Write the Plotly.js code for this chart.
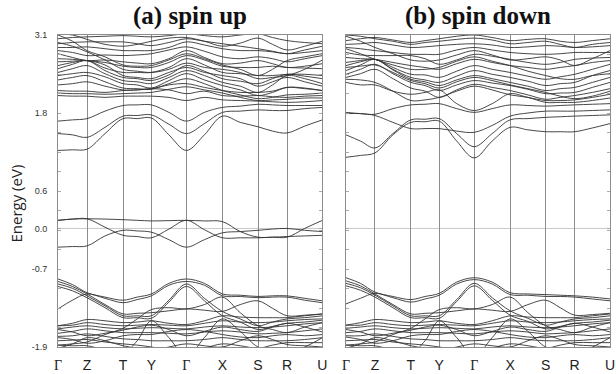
<!DOCTYPE html>
<html>
<head>
<meta charset="utf-8">
<script src="https://cdn.plot.ly/plotly-3.0.1.min.js"></script>
<style>html,body{margin:0;padding:0;background:#fff;}#chart{width:616px;height:374px;}</style>
</head>
<body>
<div id="chart"></div>
<script>
// k-path coordinates (high-symmetry points and segment midpoints)
const kPath = [0, 14.5, 29, 47, 65, 79.2, 93.4, 110.9, 128.4, 146.4, 164.4, 182.2, 200, 214.5, 229, 246.7, 264.4];
const kTicks = [0, 29, 65, 93.4, 128.4, 164.4, 200, 229, 264.4];
const kLabels = ['<span style="font-family:Liberation Serif">Γ</span>', "Z", "T", "Y", '<span style="font-family:Liberation Serif">Γ</span>', "X", "S", "R", "U"];
const yTickVals = [-1.9, -0.65, 0.0, 0.6, 1.85, 3.1];
const yTickText = ["-1.9", "-0.7", "0.0", "0.6", "1.8", "3.1"];

// ---------- spin up (eV) ----------
const upGap = [
  [0.13, 0.15, 0.155, 0.15, 0.14, 0.13, 0.12, 0.125, 0.13, 0.12, 0.11, -0.05, -0.14, -0.14, -0.14, 0.0, 0.13],
  [0.13, 0.15, 0.155, 0.02, -0.11, -0.13, -0.15, -0.01, 0.13, -0.02, -0.15, -0.15, -0.15, -0.14, -0.13, -0.12, -0.11],
  [-0.30, -0.29, -0.28, -0.12, -0.03, -0.04, -0.06, -0.18, -0.30, -0.18, -0.07, -0.05, -0.03, -0.01, 0.0, -0.03, -0.05]
];
const upCondLow = [
  [1.25, 1.26, 1.27, 1.52, 1.76, 1.76, 1.77, 1.50, 1.25, 1.50, 1.80, 1.70, 1.63, 1.56, 1.53, 1.64, 1.74],
  [1.52, 1.50, 1.46, 1.62, 1.80, 1.81, 1.82, 1.67, 1.52, 1.68, 1.86, 1.88, 1.90, 1.89, 1.89, 1.92, 1.94],
  [1.72, 1.74, 1.76, 1.88, 1.97, 1.98, 1.98, 1.86, 1.72, 1.86, 1.94, 1.96, 1.99, 1.98, 1.97, 1.97, 1.97],
  [2.13, 2.12, 2.12, 2.10, 2.12, 2.12, 2.12, 2.10, 2.05, 2.10, 2.06, 2.05, 2.04, 2.03, 2.02, 2.03, 2.05],
  [2.21, 2.20, 2.20, 2.18, 2.21, 2.22, 2.24, 2.22, 2.16, 2.20, 2.13, 2.12, 2.13, 2.11, 2.10, 2.12, 2.13]
];
const upCondHigh = [
  [3.04, 3.06, 3.07, 3.08, 3.09, 3.08, 3.07, 3.09, 3.12, 3.09, 3.07, 3.10, 3.12, 3.06, 3.01, 2.98, 2.96],
  [2.96, 2.98, 2.99, 2.99, 2.99, 2.96, 2.93, 2.98, 3.04, 3.00, 2.96, 2.92, 2.88, 2.84, 2.80, 2.86, 2.92],
  [2.90, 2.90, 2.91, 2.88, 2.85, 2.85, 2.85, 2.90, 2.99, 2.94, 2.88, 2.85, 2.85, 2.83, 2.80, 2.82, 2.85],
  [2.85, 2.82, 2.77, 2.78, 2.77, 2.78, 2.80, 2.86, 2.91, 2.84, 2.75, 2.72, 2.75, 2.72, 2.67, 2.72, 2.77],
  [2.80, 2.74, 2.69, 2.70, 2.67, 2.65, 2.64, 2.72, 2.85, 2.74, 2.64, 2.65, 2.69, 2.64, 2.58, 2.60, 2.64],
  [2.72, 2.71, 2.69, 2.66, 2.60, 2.58, 2.58, 2.66, 2.77, 2.70, 2.60, 2.58, 2.58, 2.60, 2.58, 2.57, 2.56],
  [2.61, 2.66, 2.69, 2.57, 2.50, 2.50, 2.50, 2.58, 2.72, 2.62, 2.50, 2.48, 2.45, 2.45, 2.47, 2.47, 2.45],
  [2.56, 2.63, 2.69, 2.53, 2.42, 2.40, 2.37, 2.46, 2.61, 2.52, 2.40, 2.36, 2.32, 2.40, 2.47, 2.44, 2.40],
  [2.50, 2.56, 2.61, 2.48, 2.37, 2.35, 2.32, 2.42, 2.53, 2.45, 2.34, 2.28, 2.18, 2.30, 2.45, 2.40, 2.32],
  [2.45, 2.48, 2.50, 2.43, 2.32, 2.30, 2.25, 2.37, 2.48, 2.38, 2.29, 2.22, 2.13, 2.18, 2.26, 2.25, 2.21],
  [2.38, 2.42, 2.45, 2.35, 2.25, 2.24, 2.23, 2.32, 2.40, 2.32, 2.21, 2.14, 2.08, 2.10, 2.14, 2.15, 2.17],
  [2.30, 2.32, 2.35, 2.28, 2.22, 2.22, 2.24, 2.30, 2.32, 2.26, 2.21, 2.18, 2.18, 2.20, 2.26, 2.24, 2.21],
  [3.10, 3.00, 2.85, 2.75, 2.62, 2.60, 2.61, 2.70, 2.80, 2.72, 2.62, 2.55, 2.45, 2.55, 2.69, 2.75, 2.80],
  [2.98, 2.92, 2.83, 2.70, 2.55, 2.52, 2.50, 2.55, 2.65, 2.58, 2.55, 2.50, 2.40, 2.42, 2.45, 2.55, 2.70],
  [2.67, 2.68, 2.69, 2.62, 2.45, 2.42, 2.40, 2.50, 2.58, 2.50, 2.45, 2.40, 2.28, 2.35, 2.42, 2.35, 2.28],
  [3.12, 3.10, 3.03, 2.95, 2.92, 2.95, 3.00, 3.05, 3.06, 3.00, 2.92, 2.97, 3.05, 2.95, 2.86, 2.92, 3.00],
  [2.17, 2.16, 2.16, 2.15, 2.16, 2.17, 2.18, 2.23, 2.27, 2.22, 2.17, 2.10, 2.05, 2.06, 2.07, 2.09, 2.09]
];
const upValTop = [
  [-0.81, -0.90, -1.03, -1.10, -1.15, -1.10, -1.05, -0.88, -0.81, -0.88, -1.05, -1.07, -1.09, -1.08, -1.08, -1.12, -1.16],
  [-1.29, -1.15, -1.05, -1.12, -1.19, -1.14, -1.08, -0.91, -0.85, -0.91, -1.08, -1.09, -1.11, -1.10, -1.10, -1.15, -1.19],
  [-0.85, -0.93, -1.05, -1.22, -1.37, -1.36, -1.35, -1.32, -1.29, -1.31, -1.33, -1.22, -1.16, -1.28, -1.40, -1.39, -1.37],
  [-0.89, -0.96, -1.08, -1.24, -1.40, -1.40, -1.40, -1.15, -0.89, -1.12, -1.33, -1.45, -1.56, -1.50, -1.45, -1.43, -1.40],
  [-0.93, -1.00, -1.11, -1.27, -1.43, -1.43, -1.44, -1.18, -0.93, -1.16, -1.40, -1.50, -1.62, -1.57, -1.52, -1.50, -1.47]
];
const upValLow = [
  [-1.56, -1.52, -1.46, -1.48, -1.51, -1.50, -1.48, -1.52, -1.54, -1.48, -1.40, -1.42, -1.43, -1.43, -1.43, -1.40, -1.37],
  [-1.56, -1.55, -1.51, -1.54, -1.56, -1.55, -1.54, -1.55, -1.56, -1.52, -1.48, -1.50, -1.51, -1.50, -1.48, -1.46, -1.45],
  [-1.61, -1.58, -1.56, -1.59, -1.61, -1.60, -1.59, -1.60, -1.61, -1.58, -1.56, -1.58, -1.59, -1.58, -1.56, -1.53, -1.51],
  [-1.68, -1.65, -1.61, -1.64, -1.67, -1.67, -1.67, -1.68, -1.69, -1.66, -1.64, -1.66, -1.69, -1.68, -1.67, -1.64, -1.61],
  [-1.73, -1.72, -1.69, -1.73, -1.77, -1.78, -1.80, -1.80, -1.80, -1.78, -1.75, -1.78, -1.80, -1.80, -1.80, -1.78, -1.75],
  [-1.80, -1.79, -1.78, -1.82, -1.85, -1.87, -1.90, -1.95, -2.00, -1.92, -1.85, -1.88, -1.92, -1.87, -1.83, -1.83, -1.83],
  [-1.87, -1.88, -1.88, -1.95, -2.00, -1.80, -1.48, -1.75, -2.05, -1.75, -1.45, -1.65, -1.90, -1.95, -2.00, -1.90, -1.75],
  [-1.87, -1.85, -1.82, -1.70, -1.60, -1.45, -1.30, -1.27, -1.29, -1.22, -1.10, -1.35, -1.56, -1.62, -1.67, -1.58, -1.51],
  [-1.75, -1.78, -1.84, -1.80, -1.72, -1.70, -1.70, -1.65, -1.62, -1.65, -1.70, -1.74, -1.75, -1.72, -1.70, -1.72, -1.70],
  [-1.92, -1.85, -1.75, -1.80, -1.88, -1.92, -1.95, -1.90, -1.85, -1.88, -1.90, -1.80, -1.72, -1.78, -1.86, -1.88, -1.90],
  [-1.62, -1.66, -1.72, -1.68, -1.63, -1.58, -1.55, -1.62, -1.72, -1.65, -1.58, -1.62, -1.65, -1.58, -1.52, -1.58, -1.66]
];

// ---------- spin down (eV) ----------
const downCondLow = [
  [1.14, 1.17, 1.21, 1.50, 1.70, 1.71, 1.72, 1.40, 1.13, 1.40, 1.62, 1.58, 1.55, 1.55, 1.55, 1.61, 1.68],
  [1.50, 1.40, 1.29, 1.52, 1.74, 1.75, 1.76, 1.52, 1.31, 1.52, 1.74, 1.76, 1.78, 1.79, 1.80, 1.81, 1.82],
  [1.84, 1.84, 1.81, 1.70, 1.60, 1.60, 1.60, 1.56, 1.54, 1.65, 1.80, 1.85, 1.88, 1.88, 1.88, 1.89, 1.90],
  [1.86, 1.84, 1.83, 1.92, 1.98, 1.99, 2.00, 1.92, 1.86, 1.92, 1.98, 1.97, 1.96, 1.97, 1.98, 1.99, 2.00],
  [2.34, 2.30, 2.30, 2.20, 2.15, 2.18, 2.22, 2.00, 1.89, 2.00, 2.16, 2.10, 2.05, 2.05, 2.06, 2.10, 2.15]
];
const downCondHigh = [
  [3.01, 3.04, 3.06, 3.02, 2.98, 3.01, 3.04, 3.08, 3.10, 3.06, 3.01, 3.03, 3.04, 3.00, 2.98, 3.01, 3.04],
  [2.95, 2.96, 2.98, 2.94, 2.90, 2.91, 2.93, 2.95, 2.96, 2.94, 2.90, 2.91, 2.93, 2.92, 2.90, 2.91, 2.93],
  [2.90, 2.88, 2.85, 2.82, 2.79, 2.79, 2.79, 2.86, 2.90, 2.86, 2.82, 2.80, 2.79, 2.80, 2.82, 2.82, 2.82],
  [2.82, 2.78, 2.77, 2.77, 2.77, 2.72, 2.63, 2.70, 2.79, 2.76, 2.71, 2.66, 2.63, 2.66, 2.71, 2.73, 2.74],
  [2.74, 2.72, 2.71, 2.66, 2.61, 2.58, 2.55, 2.64, 2.71, 2.66, 2.61, 2.58, 2.55, 2.58, 2.61, 2.66, 2.69],
  [2.66, 2.69, 2.71, 2.58, 2.47, 2.46, 2.42, 2.52, 2.61, 2.55, 2.50, 2.44, 2.39, 2.43, 2.47, 2.55, 2.63],
  [2.61, 2.67, 2.71, 2.55, 2.42, 2.38, 2.34, 2.44, 2.53, 2.47, 2.42, 2.36, 2.29, 2.32, 2.34, 2.45, 2.53],
  [2.53, 2.62, 2.71, 2.54, 2.39, 2.35, 2.29, 2.38, 2.45, 2.40, 2.34, 2.28, 2.21, 2.24, 2.26, 2.34, 2.42],
  [2.47, 2.55, 2.63, 2.48, 2.34, 2.29, 2.21, 2.30, 2.37, 2.33, 2.29, 2.23, 2.16, 2.17, 2.18, 2.26, 2.34],
  [2.42, 2.48, 2.55, 2.40, 2.25, 2.20, 2.10, 2.22, 2.31, 2.26, 2.21, 2.14, 2.07, 2.10, 2.13, 2.18, 2.24],
  [3.08, 3.00, 2.90, 2.80, 2.70, 2.68, 2.70, 2.78, 2.85, 2.78, 2.70, 2.72, 2.75, 2.70, 2.61, 2.72, 2.85],
  [2.88, 2.80, 2.71, 2.62, 2.55, 2.55, 2.58, 2.68, 2.75, 2.68, 2.61, 2.52, 2.45, 2.40, 2.39, 2.45, 2.48],
  [2.39, 2.38, 2.34, 2.20, 2.05, 2.06, 2.10, 2.20, 2.28, 2.22, 2.14, 2.10, 2.02, 2.02, 2.02, 2.05, 2.09],
  [3.10, 3.08, 3.04, 3.00, 2.95, 2.98, 3.00, 3.03, 3.05, 3.02, 2.96, 2.98, 3.00, 2.95, 2.90, 2.95, 2.98],
  [2.58, 2.60, 2.62, 2.50, 2.37, 2.32, 2.25, 2.35, 2.42, 2.37, 2.30, 2.24, 2.18, 2.12, 2.08, 2.12, 2.20]
];
const downValTop = [
  [-0.79, -0.88, -1.02, -1.09, -1.14, -1.09, -1.04, -0.86, -0.79, -0.86, -1.03, -1.05, -1.06, -1.07, -1.08, -1.10, -1.13],
  [-1.21, -1.12, -1.04, -1.11, -1.18, -1.13, -1.07, -0.89, -0.82, -0.89, -1.06, -1.07, -1.09, -1.09, -1.10, -1.13, -1.16],
  [-0.84, -0.92, -1.05, -1.22, -1.37, -1.36, -1.35, -1.32, -1.29, -1.31, -1.33, -1.22, -1.15, -1.27, -1.39, -1.38, -1.36],
  [-0.88, -0.95, -1.07, -1.24, -1.40, -1.40, -1.40, -1.14, -0.88, -1.11, -1.32, -1.44, -1.55, -1.50, -1.45, -1.43, -1.40],
  [-0.92, -0.99, -1.10, -1.27, -1.43, -1.43, -1.44, -1.17, -0.92, -1.15, -1.39, -1.49, -1.61, -1.57, -1.52, -1.50, -1.47]
];
const downValLow = [
  [-1.55, -1.51, -1.46, -1.48, -1.51, -1.50, -1.48, -1.52, -1.54, -1.48, -1.40, -1.42, -1.43, -1.43, -1.43, -1.40, -1.37],
  [-1.55, -1.55, -1.51, -1.54, -1.56, -1.55, -1.54, -1.55, -1.56, -1.52, -1.48, -1.50, -1.51, -1.50, -1.48, -1.46, -1.45],
  [-1.60, -1.58, -1.56, -1.59, -1.61, -1.60, -1.59, -1.60, -1.61, -1.58, -1.56, -1.58, -1.59, -1.58, -1.56, -1.53, -1.51],
  [-1.67, -1.65, -1.61, -1.64, -1.67, -1.67, -1.67, -1.68, -1.69, -1.66, -1.64, -1.66, -1.69, -1.68, -1.67, -1.64, -1.61],
  [-1.72, -1.72, -1.69, -1.73, -1.77, -1.78, -1.80, -1.80, -1.80, -1.78, -1.75, -1.78, -1.80, -1.80, -1.80, -1.78, -1.75],
  [-1.80, -1.79, -1.78, -1.82, -1.85, -1.87, -1.90, -1.95, -2.00, -1.92, -1.85, -1.88, -1.92, -1.87, -1.83, -1.83, -1.83],
  [-1.87, -1.88, -1.88, -1.95, -2.00, -1.80, -1.48, -1.75, -2.05, -1.75, -1.45, -1.65, -1.90, -1.95, -2.00, -1.90, -1.75],
  [-1.87, -1.85, -1.82, -1.70, -1.60, -1.45, -1.30, -1.27, -1.29, -1.22, -1.10, -1.35, -1.56, -1.62, -1.67, -1.58, -1.51],
  [-1.74, -1.78, -1.84, -1.80, -1.72, -1.70, -1.70, -1.65, -1.62, -1.65, -1.70, -1.74, -1.75, -1.72, -1.70, -1.72, -1.70],
  [-1.92, -1.85, -1.75, -1.80, -1.88, -1.92, -1.95, -1.90, -1.85, -1.88, -1.90, -1.80, -1.72, -1.78, -1.86, -1.88, -1.90],
  [-1.62, -1.66, -1.72, -1.68, -1.63, -1.58, -1.55, -1.62, -1.72, -1.65, -1.58, -1.62, -1.65, -1.58, -1.52, -1.58, -1.66]
];

const upBands = [].concat(upGap, upCondLow, upCondHigh, upValTop, upValLow);
const downBands = [].concat(downCondLow, downCondHigh, downValTop, downValLow);

const traces = [];
function addBands(bands, xa, ya) {
  bands.forEach(function (b) {
    traces.push({
      x: kPath, y: b, xaxis: xa, yaxis: ya, type: 'scatter', mode: 'lines',
      line: {color: '#333333', width: 0.9, shape: 'spline', smoothing: 1},
      hoverinfo: 'skip', showlegend: false
    });
  });
}
addBands(upBands, 'x', 'y');
addBands(downBands, 'x2', 'y2');

const xCommon = {
  range: [0, 264.4], tickmode: 'array', tickvals: kTicks, ticktext: kLabels,
  showgrid: true, gridcolor: '#8c8c8c', gridwidth: 1, zeroline: false,
  showline: true, mirror: true, linecolor: '#8c8c8c', linewidth: 1,
  ticks: '', ticklabelstandoff: 5, ticklabeloverflow: 'allow',
  tickfont: {family: 'Liberation Sans, Arial, sans-serif', size: 14, color: '#222'}
};
const yCommon = {
  range: [-1.9, 3.1], tickmode: 'array', tickvals: yTickVals, ticktext: yTickText,
  showgrid: false, zeroline: false, showline: true, mirror: 'allticks',
  linecolor: '#8c8c8c', linewidth: 1, ticks: 'inside', ticklen: 3, tickcolor: '#aaa',
  minor: {tickmode: 'linear', tick0: -1.9, dtick: 0.3125, ticks: 'inside', ticklen: 3, tickcolor: '#aaa'},
  tickfont: {family: 'Liberation Sans, Arial, sans-serif', size: 9, color: '#333'},
  ticklabelstandoff: 8
};

const layout = {
  width: 616, height: 374,
  margin: {l: 58, r: 6, t: 35, b: 27},
  paper_bgcolor: '#fff', plot_bgcolor: '#fff',
  showlegend: false,
  xaxis: Object.assign({}, xCommon, {domain: [0, 0.479], anchor: 'y'}),
  xaxis2: Object.assign({}, xCommon, {domain: [0.5217, 1], anchor: 'y2'}),
  yaxis: Object.assign({}, yCommon, {anchor: 'x'}),
  yaxis2: Object.assign({}, yCommon, {anchor: 'x2', matches: 'y', showticklabels: false}),
  shapes: [
    {type: 'line', xref: 'x domain', yref: 'y', x0: 0, x1: 1, y0: 0, y1: 0, line: {color: '#c8c8c8', width: 1}, layer: 'below'},
    {type: 'line', xref: 'x2 domain', yref: 'y2', x0: 0, x1: 1, y0: 0, y1: 0, line: {color: '#c8c8c8', width: 1}, layer: 'below'}
  ],
  annotations: [
    {text: '<b>(a) spin up</b>', xref: 'x domain', yref: 'paper', x: 0.5, y: 1, yshift: 3, xanchor: 'center', yanchor: 'bottom', showarrow: false,
     font: {family: 'Liberation Serif, Times New Roman, serif', size: 25, color: '#111'}},
    {text: '<b>(b) spin down</b>', xref: 'x2 domain', yref: 'paper', x: 0.5, y: 1, yshift: 3, xanchor: 'center', yanchor: 'bottom', showarrow: false,
     font: {family: 'Liberation Serif, Times New Roman, serif', size: 25, color: '#111'}},
    {text: 'Energy (eV)', xref: 'paper', yref: 'paper', x: -0.076, y: 0.46, xanchor: 'center', yanchor: 'middle', textangle: -90, showarrow: false,
     font: {family: 'Open Sans, Liberation Sans, sans-serif', size: 15, color: '#222'}}
  ]
};

Plotly.newPlot('chart', traces, layout, {staticPlot: true, displayModeBar: false});
</script>
</body>
</html>
